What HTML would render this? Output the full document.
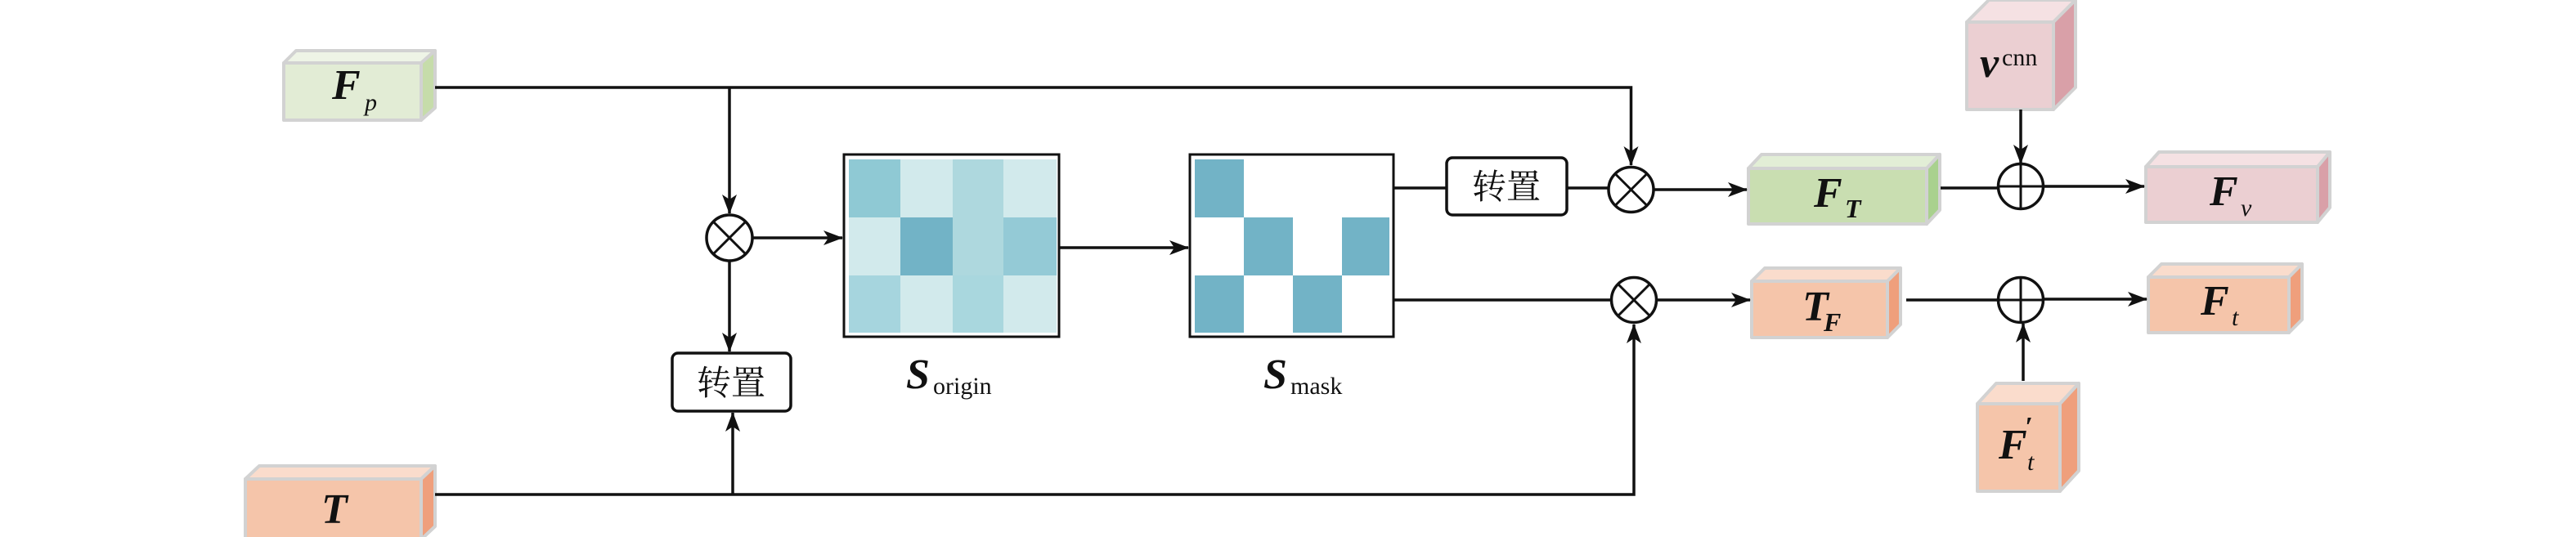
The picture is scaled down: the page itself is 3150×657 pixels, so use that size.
<!DOCTYPE html>
<html><head><meta charset="utf-8"><style>html,body{margin:0;padding:0;background:#fff}svg{display:block}</style></head>
<body>
<svg width="3150" height="657" viewBox="0 0 3150 657" xmlns="http://www.w3.org/2000/svg">
<defs>
<marker id="a" markerWidth="10" markerHeight="8" refX="9" refY="4" orient="auto" markerUnits="userSpaceOnUse" viewBox="0 0 10 8">
</marker>
<marker id="ar" viewBox="0 0 24 18" refX="23" refY="9" markerWidth="24" markerHeight="18" orient="auto" markerUnits="userSpaceOnUse">
<path d="M0,0 L24,9 L0,18 L6,9 Z" fill="#111"/>
</marker>
</defs>
<g stroke="#d2d2d2" stroke-width="4" stroke-linejoin="round">
<!-- Fp -->
<rect x="347" y="77" width="168" height="70" fill="#e2ecd5"/>
<polygon points="347,77 362,62 532,62 515,77" fill="#eef4e6"/>
<polygon points="515,77 532,62 532,132 515,147" fill="#c6dcaa"/>
<!-- T -->
<rect x="300" y="586" width="215" height="74" fill="#f5c5aa"/>
<polygon points="300,586 317,570 532,570 515,586" fill="#fadccc"/>
<polygon points="515,586 532,570 532,644 515,660" fill="#ef9f7c"/>
<!-- FT -->
<rect x="2138" y="206" width="218" height="68" fill="#c9deb1"/>
<polygon points="2138,206 2154,189 2372,189 2356,206" fill="#e2eed6"/>
<polygon points="2356,206 2372,189 2372,257 2356,274" fill="#a9d18e"/>
<!-- vcnn -->
<rect x="2405" y="27" width="106" height="107" fill="#ebcfd2"/>
<polygon points="2405,27 2432,0 2538,0 2511,27" fill="#f5e1e3"/>
<polygon points="2511,27 2538,0 2538,107 2511,134" fill="#d9a0a8"/>
<!-- Fv -->
<rect x="2624" y="204" width="210" height="68" fill="#ebcfd2"/>
<polygon points="2624,204 2640,186 2849,186 2834,204" fill="#f5e1e3"/>
<polygon points="2834,204 2849,186 2849,254 2834,272" fill="#d9a0a8"/>
<!-- TF -->
<rect x="2142" y="344" width="166" height="69" fill="#f5c5aa"/>
<polygon points="2142,344 2158,328 2324,328 2308,344" fill="#fadccc"/>
<polygon points="2308,344 2324,328 2324,397 2308,413" fill="#ef9f7c"/>
<!-- Ft -->
<rect x="2627" y="339" width="172" height="68" fill="#f5c5aa"/>
<polygon points="2627,339 2643,323 2815,323 2799,339" fill="#fadccc"/>
<polygon points="2799,339 2815,323 2815,391 2799,407" fill="#ef9f7c"/>
<!-- F't -->
<rect x="2418" y="494" width="101" height="107" fill="#f5c5aa"/>
<polygon points="2418,494 2441,469 2542,469 2519,494" fill="#fadccc"/>
<polygon points="2519,494 2542,469 2542,576 2519,601" fill="#ef9f7c"/>
</g>

<!-- S_origin matrix -->
<rect x="1032" y="189" width="263" height="223" fill="#fff" stroke="#111" stroke-width="3"/>
<g stroke="none">
<rect x="1038" y="195" width="63" height="71" fill="#8fc9d4"/><rect x="1101" y="195" width="64" height="71" fill="#d2eaec"/><rect x="1165" y="195" width="62" height="71" fill="#aed8de"/><rect x="1227" y="195" width="65" height="71" fill="#d2eaec"/>
<rect x="1038" y="266" width="63" height="71" fill="#d2eaec"/><rect x="1101" y="266" width="64" height="71" fill="#72b3c6"/><rect x="1165" y="266" width="62" height="71" fill="#aed8de"/><rect x="1227" y="266" width="65" height="71" fill="#94cad6"/>
<rect x="1038" y="337" width="63" height="70" fill="#a6d5de"/><rect x="1101" y="337" width="64" height="70" fill="#d2eaec"/><rect x="1165" y="337" width="62" height="70" fill="#a9d7de"/><rect x="1227" y="337" width="65" height="70" fill="#d2eaec"/>
</g>
<!-- S_mask matrix -->
<rect x="1455" y="189" width="249" height="223" fill="#fff" stroke="#111" stroke-width="3"/>
<g fill="#72b3c6">
<rect x="1461" y="195" width="60" height="71"/>
<rect x="1521" y="266" width="60" height="71"/><rect x="1641" y="266" width="58" height="71"/>
<rect x="1461" y="337" width="60" height="70"/><rect x="1581" y="337" width="60" height="70"/>
</g>

<!-- lines -->
<g stroke="#111" stroke-width="3.5" fill="none">
<path d="M532,107 H1994.5 V202" marker-end="url(#ar)"/>
<path d="M892,107 V261" marker-end="url(#ar)"/>
<path d="M920,291 H1030" marker-end="url(#ar)"/>
<path d="M892,319 V430" marker-end="url(#ar)"/>
<path d="M532,605 H1998 V397" marker-end="url(#ar)"/>
<path d="M896,605 V505" marker-end="url(#ar)"/>
<path d="M1295,303 H1453" marker-end="url(#ar)"/>
<path d="M1704,230 H1769"/>
<path d="M1916,230 H1967"/>
<path d="M2022,232 H2136" marker-end="url(#ar)"/>
<path d="M2373,230 H2444"/>
<path d="M2498,228 H2622" marker-end="url(#ar)"/>
<path d="M2471,134 V200" marker-end="url(#ar)"/>
<path d="M1704,367 H1971"/>
<path d="M2026,367 H2140" marker-end="url(#ar)"/>
<path d="M2331,367 H2444"/>
<path d="M2498,366 H2625" marker-end="url(#ar)"/>
<path d="M2474,466 V396" marker-end="url(#ar)"/>
</g>
<!-- operators -->
<g stroke="#111" stroke-width="3.5" fill="#fff">
<circle cx="892" cy="291" r="28"/>
<circle cx="1994.5" cy="232" r="27.5"/>
<circle cx="1998" cy="367" r="27.5"/>
<circle cx="2471" cy="228" r="27.5"/>
<circle cx="2471" cy="367" r="27.5"/>
</g>
<g stroke="#111" stroke-width="3">
<path d="M872,271 L912,311 M912,271 L872,311"/>
<path d="M1975,212.5 L2014,251.5 M2014,212.5 L1975,251.5"/>
<path d="M1978.5,347.5 L2017.5,386.5 M2017.5,347.5 L1978.5,386.5"/>
<path d="M2443.5,228 H2498.5 M2471,200.5 V255.5"/>
<path d="M2443.5,367 H2498.5 M2471,339.5 V394.5"/>
</g>
<!-- 转置 boxes -->
<rect x="822" y="432" width="145" height="71" rx="7" fill="#fff" stroke="#111" stroke-width="3.5"/>
<rect x="1769" y="193" width="147" height="70" rx="7" fill="#fff" stroke="#111" stroke-width="3.5"/>
<g font-family="'Noto Serif CJK SC','Liberation Serif',serif" font-size="42" fill="#111" text-anchor="middle">
<text x="894" y="483">转置</text>
<text x="1842" y="243">转置</text>
</g>

<!-- labels -->
<g font-family="'Liberation Serif',serif" fill="#111">
<text x="406" y="121" font-size="52" font-weight="bold" font-style="italic">F</text>
<text x="446" y="135" font-size="30" font-style="italic">p</text>
<text x="393" y="640" font-size="52" font-weight="bold" font-style="italic">T</text>
<text x="1108" y="475" font-size="52" font-weight="bold" font-style="italic">S</text>
<text x="1141" y="482" font-size="30">origin</text>
<text x="1545" y="475" font-size="52" font-weight="bold" font-style="italic">S</text>
<text x="1578" y="482" font-size="30">mask</text>
<text x="2218" y="253" font-size="52" font-weight="bold" font-style="italic">F</text>
<text x="2256" y="266" font-size="32" font-weight="bold" font-style="italic">T</text>
<text x="2702" y="251" font-size="52" font-weight="bold" font-style="italic">F</text>
<text x="2740" y="264" font-size="30" font-style="italic">v</text>
<text x="2421" y="94" font-size="52" font-weight="bold" font-style="italic">v</text>
<text x="2448" y="80" font-size="30">cnn</text>
<text x="2204" y="392" font-size="52" font-weight="bold" font-style="italic">T</text>
<text x="2230" y="405" font-size="32" font-weight="bold" font-style="italic">F</text>
<text x="2691" y="385" font-size="52" font-weight="bold" font-style="italic">F</text>
<text x="2729" y="398" font-size="30" font-style="italic">t</text>
<text x="2444" y="561" font-size="52" font-weight="bold" font-style="italic">F</text>
<text x="2476" y="533" font-size="34" font-weight="bold" font-style="italic">′</text>
<text x="2479" y="575" font-size="30" font-style="italic">t</text>
</g>
</svg>
</body></html>
